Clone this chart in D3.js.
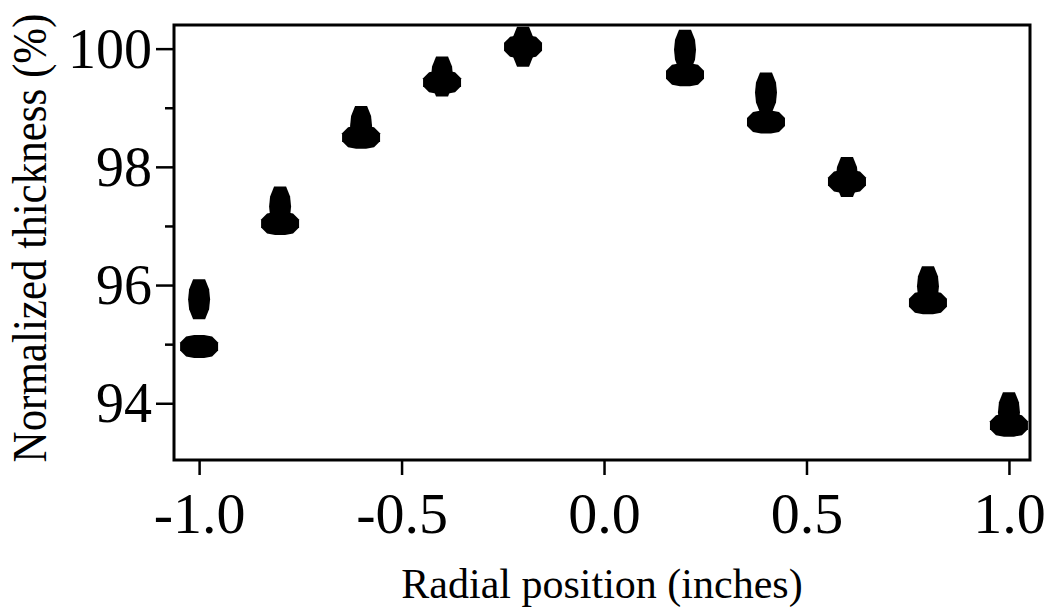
<!DOCTYPE html>
<html>
<head>
<meta charset="utf-8">
<script src="https://cdn.jsdelivr.net/npm/d3@7"></script>
<style>
  html, body { margin: 0; padding: 0; background: #fff; }
  svg { display: block; }
  text { font-family: "Liberation Serif", "Times New Roman", serif; fill: #000; }
</style>
</head>
<body>
<div id="chart"></div>
<script>
// Radial positions (inches)
const positions = [-1.0, -0.8, -0.6, -0.4, -0.2, 0.2, 0.4, 0.6, 0.8, 1.0];
// Wide (flat) markers
const seriesWide = [94.96, 97.04, 98.50, 99.43, 100.03, 99.56, 98.76, 97.75, 95.70, 93.63];
// Tall (narrow) markers
const seriesTall = [95.76, 97.33, 98.69, 99.53, 100.03, 99.98, 99.26, 97.83, 95.98, 93.85];

const yMajor = [94, 96, 98, 100];
const yMinor = [95, 97, 99];
const xTicks = [-1.0, -0.5, 0.0, 0.5, 1.0];

const width = 1047, height = 607;
const margin = { top: 25, right: 17, bottom: 147, left: 174 };

const svg = d3.select('#chart')
    .append('svg')
    .attr('width', width)
    .attr('height', height);

const x = d3.scaleLinear()
    .domain([-1.062, 1.052])
    .range([margin.left, width - margin.right]);

const y = d3.scaleLinear()
    .domain([93.04, 100.4])
    .range([height - margin.bottom, margin.top]);

// marker outlines
const wideShape = [[-19,-4],[-13,-10],[-5,-11.5],[5,-11.5],[13,-10],[19,-4],
                   [19,4],[13,10],[5,11.5],[-5,11.5],[-13,10],[-19,4]];
const tallShape = [[-6,-20],[6,-20],[10,-10],[11,0],[10,10],[6,20],
                   [-6,20],[-10,10],[-11,0],[-10,-10]];
const line = d3.line().curve(d3.curveLinearClosed);

// y axis
const yAxisMajor = svg.append('g')
    .attr('transform', `translate(${margin.left},0)`)
    .call(d3.axisLeft(y).tickValues(yMajor).tickSize(18).tickPadding(4).tickFormat(d3.format('d')));
const yAxisMinor = svg.append('g')
    .attr('transform', `translate(${margin.left},0)`)
    .call(d3.axisLeft(y).tickValues(yMinor).tickSize(9).tickFormat(''));

// x axis
const xAxis = svg.append('g')
    .attr('transform', `translate(0,${height - margin.bottom})`)
    .call(d3.axisBottom(x).tickValues(xTicks).tickSize(15).tickFormat(d => d.toFixed(1)));

[yAxisMajor, yAxisMinor, xAxis].forEach(g => {
    g.select('.domain').remove();
    g.selectAll('.tick line').attr('stroke', '#000').attr('stroke-width', 2.5);
    g.selectAll('.tick text').attr('font-family', null).style('fill', '#000');
});
yAxisMajor.selectAll('.tick text')
    .style('font-size', '56px')
    .attr('dy', '0.33em');
xAxis.selectAll('.tick text')
    .style('font-size', '58px')
    .attr('y', 73)
    .attr('dy', 0);

// frame
svg.append('rect')
    .attr('x', margin.left)
    .attr('y', margin.top)
    .attr('width', width - margin.right - margin.left)
    .attr('height', height - margin.bottom - margin.top)
    .attr('fill', 'none')
    .attr('stroke', '#000')
    .attr('stroke-width', 3);

// markers
const plot = svg.append('g');
plot.selectAll('.tall')
    .data(positions.map((p, i) => ({ p, v: seriesTall[i] })))
    .enter()
    .append('path')
    .attr('class', 'tall')
    .attr('transform', d => `translate(${x(d.p)},${y(d.v)})`)
    .attr('d', line(tallShape))
    .attr('fill', '#000');
plot.selectAll('.wide')
    .data(positions.map((p, i) => ({ p, v: seriesWide[i] })))
    .enter()
    .append('path')
    .attr('class', 'wide')
    .attr('transform', d => `translate(${x(d.p)},${y(d.v)})`)
    .attr('d', line(wideShape))
    .attr('fill', '#000');

// axis titles
svg.append('text')
    .attr('x', (x(-1.062) + x(1.052)) / 2)
    .attr('y', 598)
    .attr('text-anchor', 'middle')
    .style('font-size', '42px')
    .text('Radial position (inches)');

svg.append('text')
    .attr('transform', 'translate(46,238) rotate(-90) scale(1,1.12)')
    .attr('text-anchor', 'middle')
    .style('font-size', '43px')
    .text('Normalized thickness (%)');
</script>
</body>
</html>
